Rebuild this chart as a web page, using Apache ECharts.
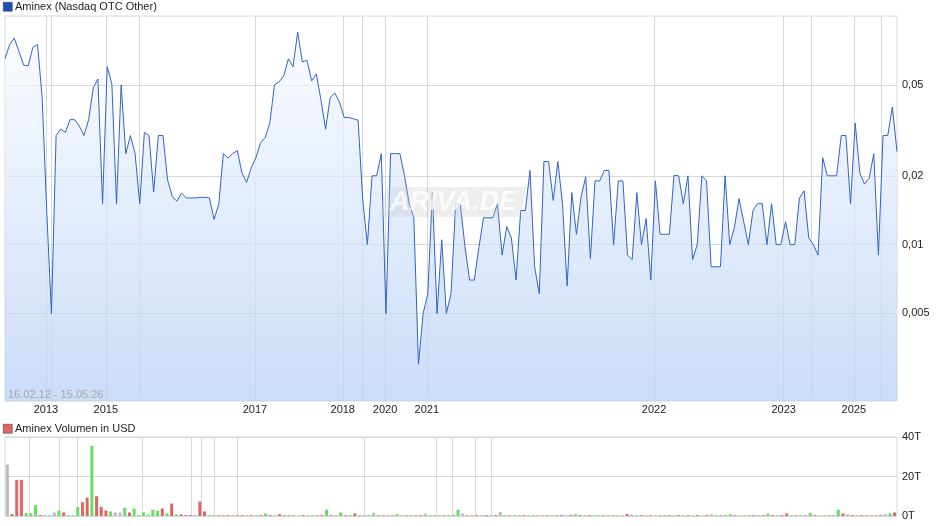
<!DOCTYPE html>
<html>
<head>
<meta charset="utf-8">
<script src="https://cdn.jsdelivr.net/npm/echarts@6/dist/echarts.min.js"></script>
<style>html,body{margin:0;padding:0;background:#fff}#c{width:940px;height:526px}</style>
</head>
<body>
<div id="c"></div>
<script>
// Kurs (USD), eine Stelle pro Zeitpunkt
var prices = [
  0.065,0.075,0.080,0.070,0.061,0.0605,0.073,0.075,0.044,0.0138,
  0.005,0.030,0.032,0.031,0.0352,0.0352,0.033,0.030,0.0352,0.0485,
  0.053,0.0151,0.060,0.0505,0.0151,0.050,0.025,0.030,0.025,0.0151,
  0.031,0.030,0.017,0.030,0.030,0.0192,0.0162,0.0155,0.0168,0.016,
  0.016,0.016,0.0161,0.0161,0.016,0.0129,0.015,0.025,0.0239,0.025,
  0.0258,0.0206,0.0187,0.0217,0.024,0.0279,0.0294,0.034,0.050,0.0515,
  0.0547,0.065,0.060,0.085,0.063,0.064,0.052,0.0558,0.043,0.032,
  0.044,0.046,0.042,0.036,0.036,0.0355,0.035,0.0157,0.010,0.020,
  0.020,0.025,0.005,0.025,0.025,0.025,0.020,0.0151,0.0131,0.0030,
  0.005,0.0061,0.0169,0.005,0.0105,0.005,0.0061,0.0151,0.0151,0.0098,
  0.0070,0.0070,0.0097,0.0131,0.0131,0.0131,0.0151,0.0090,0.0120,0.0107,
  0.0070,0.0141,0.0141,0.0211,0.0080,0.0061,0.0231,0.0231,0.0156,0.0231,
  0.0151,0.0066,0.0169,0.0111,0.0162,0.0198,0.0087,0.019,0.019,0.0211,
  0.0211,0.0100,0.019,0.019,0.0090,0.0086,0.0169,0.0100,0.0130,0.0070,
  0.019,0.0111,0.0111,0.0111,0.0201,0.0200,0.0151,0.020,0.0086,0.0100,
  0.020,0.019,0.0080,0.0080,0.0080,0.020,0.010,0.0119,0.0159,0.0126,
  0.010,0.0141,0.0151,0.0151,0.010,0.0151,0.010,0.010,0.0126,0.010,
  0.010,0.016,0.0172,0.0107,0.010,0.0090,0.0240,0.020,0.020,0.020,
  0.030,0.030,0.0151,0.034,0.0206,0.0184,0.0195,0.025,0.009,0.030,
  0.030,0.040,0.0255
];
var priceTicks = [0.005, 0.01, 0.02, 0.05];
var priceMin = 0.00207, priceMax = 0.1;
var yearLabels = ['2013','2015','2017','2018','2020','2021','2022','2023','2025'];
var yearLabelIdx = [8.8, 21.7, 53.8, 72.7, 81.8, 90.8, 139.7, 167.6, 182.7];
var priceGridIdx = [8.8, 9.9, 21.7, 28.8, 53.8, 72.7, 76.8, 81.8, 90.8, 139.7, 167.6, 173.6, 182.7, 188.7];

// Volumen in Tausend USD, Farbe: g = gestiegen, r = gefallen, n = unverändert
var volumes = [
  26,1,18.3,18.3,1.5,1.3,5.5,0.5,0.4,0.4,
  1.8,2.8,1.8,0.4,0.4,4.5,7,9.3,35.6,10,
  4.6,2.8,2.3,1.8,1.8,4.2,1.8,3.8,0.5,1.8,
  0.7,3.2,2.7,3.8,1.3,6.3,0.8,0.8,0.4,0.4,
  0.3,7.3,2.3,0.4,0.4,0.3,0.3,0.4,0.3,0.3,
  0.4,0.3,0.4,0.3,0.4,1.3,0.4,0.3,0.9,0.4,
  0.3,0.4,0.3,0.4,0.3,0.4,0.3,0.4,3.2,0.4,
  0.3,1.8,0.4,0.4,1.3,0.4,0.3,0.4,1.6,0.4,
  0.3,0.4,0.3,0.9,0.4,0.3,0.4,0.3,0.4,1.2,
  0.4,0.3,0.4,0.3,0.4,0.5,3.2,1.3,0.4,0.3,
  0.4,0.3,0.4,0.3,0.4,2.0,0.4,0.3,0.4,0.3,
  0.4,0.3,0.4,0.3,0.4,0.3,0.4,0.3,0.4,0.3,
  0.4,0.9,0.4,0.3,0.4,0.3,0.4,0.3,0.4,0.3,
  0.4,0.3,1.0,0.4,0.3,0.4,0.3,0.4,0.3,0.4,
  0.3,0.4,0.3,0.4,0.3,0.4,0.3,0.4,0.3,0.4,
  0.9,0.4,0.3,0.4,0.9,0.4,0.3,0.4,0.3,0.4,
  0.3,0.4,1.2,0.4,0.3,0.4,1.3,0.4,0.3,0.4,
  0.3,1.5,0.4,0.3,0.4,0.3,0.4,3.2,1.3,0.8,
  0.4,0.3,0.4,0.3,0.4,0.3,0.4,0.9,1.3,1.8
];
var volColors = [
  'n','r','r','r','g','g','g','r','g','g',
  'n','g','r','g','g','g','r','r','g','r',
  'r','r','g','n','n','g','r','g','g','g',
  'g','g','g','r','g','r','g','r','r','r',
  'r','r','r','g','g','r','r','r','g','r',
  'r','g','r','g','r','g','r','g','r','g',
  'r','g','n','r','g','g','r','r','g','r',
  'r','g','r','g','r','g','r','g','n','g',
  'r','g','r','g','n','r','g','r','r','n',
  'g','r','g','r','g','g','g','n','g','r',
  'r','g','r','g','r','n','g','r','g','r',
  'r','g','g','r','n','r','g','r','r','g',
  'r','g','r','g','r','g','g','r','g','r',
  'n','g','r','r','g','r','g','r','n','g',
  'r','r','g','r','g','r','g','r','g','r',
  'n','g','r','g','g','r','n','g','r','r',
  'g','r','g','r','g','r','r','g','r','g',
  'r','g','r','n','g','r','g','g','r','n',
  'r','g','r','r','g','r','r','n','g','r'
];
var volTicks = [0, 20, 40];
var volGridIdx = [4.6, 11, 14.8, 28.7, 39.1, 41.3, 44, 48.9, 76, 91.3, 94.7, 99.6, 103];

var colorMap = {g: '#66dd66', r: '#e06666', n: '#bbbbbb'};
var FONT = 'Liberation Sans';
var lg = function (v) { return Math.log(v) / Math.LN10; };

var priceData = prices.map(function (v, i) { return [i, lg(v)]; });
var volData = volumes.map(function (v, i) {
  return {value: [i, v], itemStyle: {color: colorMap[volColors[i]]}};
});

var chart = echarts.init(document.getElementById('c'));
chart.setOption({
  animation: false,
  graphic: [
    {type: 'rect', left: 3, top: 2, shape: {width: 9, height: 9}, style: {fill: '#1f4fb5', stroke: '#333', lineWidth: 0.5}},
    {type: 'text', left: 15, top: 1, style: {text: 'Aminex (Nasdaq OTC Other)', font: '11px ' + FONT, fill: '#222'}},
    {type: 'rect', left: 3, top: 424, shape: {width: 9, height: 9}, style: {fill: '#e06666', stroke: '#333', lineWidth: 0.5}},
    {type: 'text', left: 15, top: 423, style: {text: 'Aminex Volumen in USD', font: '11px ' + FONT, fill: '#222'}},
    {type: 'text', left: 8, top: 389, z: 10, style: {text: '16.02.12 - 15.05.26', font: '11px ' + FONT, fill: '#a8a8a8'}},
    {type: 'polygon', z: 10, shape: {points: [[386, 187], [527, 187], [520, 217], [379, 217]]}, style: {fill: 'rgba(200,200,200,0.3)'}},
    {type: 'text', left: 390, top: 189, z: 10, style: {text: 'ARIVA.DE', font: 'italic bold 27px ' + FONT, fill: 'rgba(255,255,255,0.75)'}}
  ],
  grid: [
    {left: 5, right: 43, top: 16, bottom: 125, show: true, borderColor: '#d8d8d8', borderWidth: 1},
    {left: 5, right: 43, top: 437, bottom: 10, show: true, borderColor: '#d8d8d8', borderWidth: 1}
  ],
  xAxis: [
    {
      type: 'value', gridIndex: 0, min: 0, max: prices.length - 1,
      axisLine: {show: false},
      axisTick: {show: false, customValues: priceGridIdx},
      splitLine: {show: true, lineStyle: {color: '#d8d8d8'}},
      axisLabel: {
        customValues: yearLabelIdx, margin: 3, color: '#222', fontFamily: FONT, fontSize: 11,
        formatter: function (v) {
          for (var i = 0; i < yearLabelIdx.length; i++) if (Math.abs(yearLabelIdx[i] - v) < 1e-6) return yearLabels[i];
          return '';
        }
      }
    },
    {
      type: 'value', gridIndex: 1, min: -0.5, max: volumes.length - 0.5,
      axisLine: {show: false},
      axisTick: {show: false, customValues: volGridIdx},
      splitLine: {show: true, lineStyle: {color: '#d8d8d8'}},
      axisLabel: {show: false, customValues: volGridIdx}
    }
  ],
  yAxis: [
    {
      type: 'value', gridIndex: 0, position: 'right', min: lg(priceMin), max: lg(priceMax),
      axisLine: {show: false},
      axisTick: {show: false, customValues: priceTicks.map(lg)},
      splitLine: {show: true, lineStyle: {color: '#d8d8d8'}},
      axisLabel: {
        customValues: priceTicks.map(lg), margin: 5, color: '#222', fontFamily: FONT, fontSize: 11,
        formatter: function (v) {
          var r = Math.pow(10, v);
          return String(Math.round(r * 1000) / 1000).replace('.', ',');
        }
      }
    },
    {
      type: 'value', gridIndex: 1, position: 'right', min: 0, max: 40, interval: 20,
      axisLine: {show: false}, axisTick: {show: false},
      splitLine: {show: true, lineStyle: {color: '#d8d8d8'}},
      axisLabel: {margin: 5, color: '#222', fontFamily: FONT, fontSize: 11, formatter: function (v) { return v + 'T'; }}
    }
  ],
  series: [
    {
      type: 'line', xAxisIndex: 0, yAxisIndex: 0, data: priceData, symbol: 'none',
      lineStyle: {color: '#2f64c4', width: 1},
      areaStyle: {
        origin: 'start',
        color: new echarts.graphic.LinearGradient(0, 0, 0, 1, [
          {offset: 0, color: '#f7faff'}, {offset: 1, color: '#b4cdf6'}
        ])
      }
    },
    {
      type: 'bar', xAxisIndex: 1, yAxisIndex: 1, data: volData, barWidth: 3
    }
  ]
});
</script>
</body>
</html>
